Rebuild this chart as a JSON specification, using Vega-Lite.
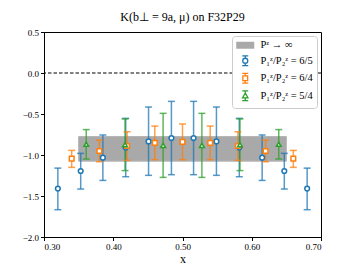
{
  "$schema": "https://vega.github.io/schema/vega-lite/v6.json",
  "autosize": "none",
  "width": 277,
  "height": 205,
  "padding": {"left": 44, "top": 32, "right": 36, "bottom": 31},
  "title": {"text": "K(b⊥ = 9a, μ) on F32P29", "font": "Liberation Serif", "fontSize": 12, "fontWeight": "normal", "offset": 4, "anchor": "middle", "color": "black"},
  "config": {
    "view": {"stroke": "black", "strokeWidth": 1},
    "axis": {"labelFont": "Liberation Serif", "labelFontSize": 9, "labelColor": "black", "titleFont": "Liberation Serif", "titleColor": "black", "titleFontWeight": "normal", "domainColor": "black", "tickColor": "black", "tickSize": 3.5, "grid": false, "labelPadding": 2},
    "legend": {"fillColor": "white", "strokeColor": "#cccccc", "cornerRadius": 3, "padding": 4, "labelFont": "Liberation Serif", "labelFontSize": 10.5, "labelColor": "black", "rowPadding": 1.5, "symbolOffset": 4, "labelOffset": 10}
  },
  "datasets": {
    "band": [{"x1": 0.35, "x2": 0.65, "lo": -1.075, "hi": -0.775}],
    "pts": [
      {"series": "P₁ᶻ/P₂ᶻ = 6/5", "ratio": "6/5", "x": 0.32, "y": -1.41, "lo": -1.667, "hi": -1.16},
      {"series": "P₁ᶻ/P₂ᶻ = 6/5", "ratio": "6/5", "x": 0.353, "y": -1.195, "lo": -1.415, "hi": -0.98},
      {"series": "P₁ᶻ/P₂ᶻ = 6/5", "ratio": "6/5", "x": 0.385, "y": -1.033, "lo": -1.31, "hi": -0.756},
      {"series": "P₁ᶻ/P₂ᶻ = 6/5", "ratio": "6/5", "x": 0.418, "y": -0.909, "lo": -1.265, "hi": -0.553},
      {"series": "P₁ᶻ/P₂ᶻ = 6/5", "ratio": "6/5", "x": 0.451, "y": -0.834, "lo": -1.248, "hi": -0.415},
      {"series": "P₁ᶻ/P₂ᶻ = 6/5", "ratio": "6/5", "x": 0.484, "y": -0.793, "lo": -1.24, "hi": -0.346},
      {"series": "P₁ᶻ/P₂ᶻ = 6/5", "ratio": "6/5", "x": 0.516, "y": -0.793, "lo": -1.24, "hi": -0.346},
      {"series": "P₁ᶻ/P₂ᶻ = 6/5", "ratio": "6/5", "x": 0.549, "y": -0.834, "lo": -1.248, "hi": -0.415},
      {"series": "P₁ᶻ/P₂ᶻ = 6/5", "ratio": "6/5", "x": 0.582, "y": -0.909, "lo": -1.265, "hi": -0.553},
      {"series": "P₁ᶻ/P₂ᶻ = 6/5", "ratio": "6/5", "x": 0.615, "y": -1.033, "lo": -1.31, "hi": -0.756},
      {"series": "P₁ᶻ/P₂ᶻ = 6/5", "ratio": "6/5", "x": 0.647, "y": -1.195, "lo": -1.415, "hi": -0.98},
      {"series": "P₁ᶻ/P₂ᶻ = 6/5", "ratio": "6/5", "x": 0.68, "y": -1.41, "lo": -1.667, "hi": -1.16},
      {"series": "P₁ᶻ/P₂ᶻ = 6/4", "ratio": "6/4", "x": 0.34, "y": -1.045, "lo": -1.151, "hi": -0.944},
      {"series": "P₁ᶻ/P₂ᶻ = 6/4", "ratio": "6/4", "x": 0.38, "y": -0.951, "lo": -1.082, "hi": -0.82},
      {"series": "P₁ᶻ/P₂ᶻ = 6/4", "ratio": "6/4", "x": 0.42, "y": -0.89, "lo": -1.065, "hi": -0.716},
      {"series": "P₁ᶻ/P₂ᶻ = 6/4", "ratio": "6/4", "x": 0.46, "y": -0.852, "lo": -1.057, "hi": -0.647},
      {"series": "P₁ᶻ/P₂ᶻ = 6/4", "ratio": "6/4", "x": 0.50, "y": -0.84, "lo": -1.057, "hi": -0.622},
      {"series": "P₁ᶻ/P₂ᶻ = 6/4", "ratio": "6/4", "x": 0.54, "y": -0.852, "lo": -1.057, "hi": -0.647},
      {"series": "P₁ᶻ/P₂ᶻ = 6/4", "ratio": "6/4", "x": 0.58, "y": -0.89, "lo": -1.065, "hi": -0.716},
      {"series": "P₁ᶻ/P₂ᶻ = 6/4", "ratio": "6/4", "x": 0.62, "y": -0.951, "lo": -1.082, "hi": -0.82},
      {"series": "P₁ᶻ/P₂ᶻ = 6/4", "ratio": "6/4", "x": 0.66, "y": -1.045, "lo": -1.151, "hi": -0.944},
      {"series": "P₁ᶻ/P₂ᶻ = 5/4", "ratio": "5/4", "x": 0.361, "y": -0.87, "lo": -1.049, "hi": -0.69},
      {"series": "P₁ᶻ/P₂ᶻ = 5/4", "ratio": "5/4", "x": 0.417, "y": -0.875, "lo": -1.19, "hi": -0.56},
      {"series": "P₁ᶻ/P₂ᶻ = 5/4", "ratio": "5/4", "x": 0.472, "y": -0.883, "lo": -1.273, "hi": -0.492},
      {"series": "P₁ᶻ/P₂ᶻ = 5/4", "ratio": "5/4", "x": 0.528, "y": -0.883, "lo": -1.273, "hi": -0.492},
      {"series": "P₁ᶻ/P₂ᶻ = 5/4", "ratio": "5/4", "x": 0.583, "y": -0.875, "lo": -1.19, "hi": -0.56},
      {"series": "P₁ᶻ/P₂ᶻ = 5/4", "ratio": "5/4", "x": 0.639, "y": -0.87, "lo": -1.049, "hi": -0.69}
    ],
    "zero": [{"y": 0}]
  },
  "layer": [
    {
      "data": {"name": "band"},
      "mark": {"type": "rect", "fill": "#a9a9a9", "stroke": "#b5b5b5", "strokeWidth": 1},
      "encoding": {
        "x": {"field": "x1", "type": "quantitative", "scale": {"domain": [0.3, 0.7], "nice": false, "zero": false},
              "axis": {"values": [0.3, 0.35, 0.4, 0.45, 0.5, 0.55, 0.6, 0.65, 0.7], "format": ".2f", "title": "x", "titleFontSize": 12, "titlePadding": 2}},
        "x2": {"field": "x2"},
        "y": {"field": "lo", "type": "quantitative", "scale": {"domain": [-2, 0.5], "nice": false, "zero": false},
              "axis": {"values": [-2, -1.5, -1, -0.5, 0, 0.5], "format": ".1f", "title": null}},
        "y2": {"field": "hi"}
      }
    },
    {
      "data": {"name": "zero"},
      "mark": {"type": "rule", "color": "black", "strokeWidth": 1, "strokeDash": [3.5, 2]},
      "encoding": {"y": {"field": "y", "type": "quantitative"}}
    },
    {
      "data": {"name": "pts"},
      "mark": {"type": "rule", "strokeWidth": 1.5, "opacity": 0.75},
      "encoding": {
        "x": {"field": "x", "type": "quantitative"},
        "y": {"field": "lo", "type": "quantitative"},
        "y2": {"field": "hi"},
        "stroke": {"field": "ratio", "type": "nominal", "scale": {"domain": ["6/5", "6/4", "5/4"], "range": ["#1f77b4", "#ff7f0e", "#2ca02c"]}, "legend": null}
      }
    },
    {
      "data": {"name": "pts"},
      "mark": {"type": "tick", "orient": "horizontal", "size": 7, "thickness": 1.5, "opacity": 0.75},
      "encoding": {
        "x": {"field": "x", "type": "quantitative"},
        "y": {"field": "lo", "type": "quantitative"},
        "fill": {"field": "ratio", "type": "nominal", "scale": {"domain": ["6/5", "6/4", "5/4"], "range": ["#1f77b4", "#ff7f0e", "#2ca02c"]}, "legend": null}
      }
    },
    {
      "data": {"name": "pts"},
      "mark": {"type": "tick", "orient": "horizontal", "size": 7, "thickness": 1.5, "opacity": 0.75},
      "encoding": {
        "x": {"field": "x", "type": "quantitative"},
        "y": {"field": "hi", "type": "quantitative"},
        "fill": {"field": "ratio", "type": "nominal", "legend": null}
      }
    },
    {
      "data": {"name": "pts"},
      "mark": {"type": "point", "filled": false, "fill": "white", "fillOpacity": 1, "opacity": 1, "strokeWidth": 1.5, "size": 22},
      "encoding": {
        "x": {"field": "x", "type": "quantitative"},
        "y": {"field": "y", "type": "quantitative"},
        "shape": {"field": "ratio", "type": "nominal",
          "scale": {"domain": ["6/5", "6/4", "5/4"], "range": ["circle", "square", "triangle-up"]},
          "legend": null
        },
        "color": {"field": "series", "type": "nominal",
          "scale": {"domain": ["Pᶻ → ∞", "P₁ᶻ/P₂ᶻ = 6/5", "P₁ᶻ/P₂ᶻ = 6/4", "P₁ᶻ/P₂ᶻ = 5/4"], "range": ["#a9a9a9", "#1f77b4", "#ff7f0e", "#2ca02c"]},
          "legend": {"title": null, "orient": "top-right", "offset": 4, "symbolSize": 144,
            "encoding": {"symbols": {
              "shape": {"value": {"expr": "datum.value === 'Pᶻ → ∞' ? 'M-1.5,-0.58H1.5V0.58H-1.5Z' : datum.value === 'P₁ᶻ/P₂ᶻ = 6/5' ? 'M0,-0.8V-0.42M0,0.42V0.8M-0.5,-0.8H0.5M-0.5,0.8H0.5M0.42,0A0.42,0.42,0,1,1,-0.42,0A0.42,0.42,0,1,1,0.42,0' : datum.value === 'P₁ᶻ/P₂ᶻ = 6/4' ? 'M0,-0.8V-0.4M0,0.4V0.8M-0.5,-0.8H0.5M-0.5,0.8H0.5M-0.4,-0.4H0.4V0.4H-0.4Z' : 'M0,-0.8V-0.45M0,0.35V0.8M-0.5,-0.8H0.5M-0.5,0.8H0.5M0,-0.45L0.45,0.35H-0.45Z'"}},
              "fill": {"value": {"expr": "datum.value === 'Pᶻ → ∞' ? '#a9a9a9' : '#ffffff'"}},
              "fillOpacity": {"value": 1},
              "strokeWidth": {"value": {"expr": "datum.value === 'Pᶻ → ∞' ? 0 : 1.3"}},
              "size": {"value": 144}
            }}
          }
        }
      }
    }
  ]
}
